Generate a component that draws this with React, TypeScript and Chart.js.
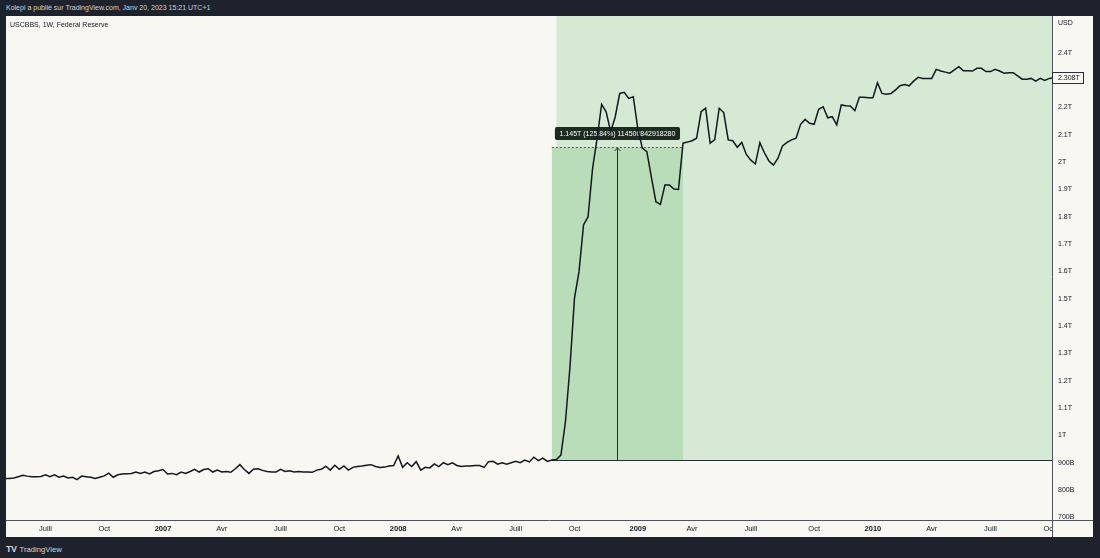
import React, { useEffect, useRef } from "react";
import { Chart, registerables } from "chart.js";

Chart.register(...registerables);

// Weekly bars (index 0 = first week of 2007), Federal Reserve total assets, billions USD
const FIRST_WEEK = -35;
const values2006 = [
  842, 842, 844, 849, 854, 851, 849, 849, 850, 856,
  849, 856, 847, 851, 844, 847, 838, 851, 849, 847,
  842, 847, 852, 862, 847, 856, 859, 860, 861, 866,
  861, 866, 859, 868, 871,
];
const values2007 = [
  875, 859, 861, 856, 866, 861, 868, 876, 866, 875,
  878, 866, 873, 866, 868, 865, 878, 893, 875, 861,
  876, 878, 872, 868, 866, 866, 876, 868, 871, 866,
  868, 866, 866, 865, 873, 876, 887, 873, 891, 876,
  888, 873, 883, 886, 888, 891, 893, 886, 883, 884,
  888, 890,
];
const values2008 = [
  925, 883, 900, 886, 904, 873, 883, 881, 896, 886,
  900, 893, 900, 890, 886, 888, 888, 890, 890, 883,
  904, 905, 895, 900, 895, 900, 905, 900, 910, 903,
  920, 908, 917, 905, 910, 912, 928, 1050, 1250, 1502,
  1599, 1770, 1800, 1977, 2087, 2211, 2184, 2111, 2165, 2251,
  2255, 2233, 2239,
];
const values2009 = [
  2123, 2051, 2038, 1945, 1855, 1845, 1916, 1916, 1901, 1900,
  2069, 2073, 2078, 2087, 2184, 2197, 2069, 2081, 2197, 2181,
  2081, 2078, 2054, 2072, 2028, 2007, 1993, 2071, 2034, 2004,
  1989, 2014, 2059, 2072, 2081, 2087, 2138, 2156, 2142, 2138,
  2193, 2202, 2162, 2166, 2136, 2209, 2206, 2205, 2188, 2237,
  2237, 2235,
];
const values2010 = [
  2235, 2290, 2251, 2248, 2251, 2264, 2279, 2284, 2279, 2296,
  2310, 2306, 2306, 2306, 2339, 2333, 2329, 2325, 2337, 2349,
  2334, 2334, 2333, 2343, 2343, 2331, 2331, 2339, 2333, 2325,
  2327, 2327, 2315, 2303, 2303, 2306, 2296, 2306, 2299, 2306,
  2308,
];

const xTickWeeks = [-26, -13, 0, 13, 26, 39, 52, 65, 78, 91, 105, 117, 130, 144, 157, 170, 183, 196];
const xTickLabels = ["Juill", "Oct", "2007", "Avr", "Juill", "Oct", "2008", "Avr", "Juill", "Oct", "2009", "Avr", "Juill", "Oct", "2010", "Avr", "Juill", "Oct"];
const yTickValues = [700, 800, 900, 1000, 1100, 1200, 1300, 1400, 1500, 1600, 1700, 1800, 1900, 2000, 2100, 2200, 2300, 2400];

const viewMinWeek = -34.72;
const viewMaxWeek = 196.6;
const viewMinValue = 690.5;
const viewMaxValue = 2534.3;

// Price range measurement drawing
const measureStartWeek = 86;
const measureEndWeek = 115;
const measureFrom = 910;
const measureTo = 2055;
const measureLabel = "1.145T (125.84%) 114500842918280";
const zoneStartWeek = 87;

const FONT = "'Liberation Sans', Arial, sans-serif";
const PANEL_BG = "rgb(248,247,242)";
const TEXT = "#131722";

const allValues = [...values2006, ...values2007, ...values2008, ...values2009, ...values2010];
const lastValue = allValues[allValues.length - 1];

function fmt(v: number): string {
  if (v >= 1000) {
    const t = Math.round(v) / 1000;
    return String(Math.round(t * 1000) / 1000) + "T";
  }
  return String(Math.round(v)) + "B";
}

const overlayPlugin = {
  id: "overlay",
  beforeDatasetsDraw(chart: any) {
    const { ctx, chartArea: a, scales } = chart;
    const x = scales.x;
    const y = scales.y;
    ctx.save();
    ctx.beginPath();
    ctx.rect(a.left, a.top, a.right - a.left, a.bottom - a.top);
    ctx.clip();
    const yBase = y.getPixelForValue(measureFrom);
    const yTop = y.getPixelForValue(measureTo);
    const xz = x.getPixelForValue(zoneStartWeek);
    ctx.fillStyle = "rgb(214,233,212)";
    ctx.fillRect(xz, a.top, a.right - xz, yBase - a.top);
    const x0 = x.getPixelForValue(measureStartWeek);
    const x1 = x.getPixelForValue(measureEndWeek);
    ctx.fillStyle = "rgb(186,221,185)";
    ctx.fillRect(x0, yTop, x1 - x0, yBase - yTop);

    ctx.lineWidth = 1;
    ctx.strokeStyle = "#2a2e39";
    ctx.beginPath();
    ctx.moveTo(x0, Math.round(yBase) + 0.5);
    ctx.lineTo(a.right, Math.round(yBase) + 0.5);
    ctx.stroke();

    ctx.setLineDash([2, 2]);
    ctx.strokeStyle = "rgba(60,60,60,0.8)";
    ctx.beginPath();
    ctx.moveTo(x0, Math.round(yTop) + 0.5);
    ctx.lineTo(x1, Math.round(yTop) + 0.5);
    ctx.stroke();
    ctx.setLineDash([]);

    const xm = Math.round((x0 + x1) / 2) + 0.5;
    ctx.strokeStyle = "#2a2e39";
    ctx.beginPath();
    ctx.moveTo(xm, yBase);
    ctx.lineTo(xm, yTop + 1);
    ctx.moveTo(xm - 3, yTop + 4);
    ctx.lineTo(xm, yTop + 1);
    ctx.lineTo(xm + 3, yTop + 4);
    ctx.stroke();

    // label
    const bx = x0 + 3;
    const bw = x1 - x0 - 6;
    const by = yTop - 20;
    const bh = 13;
    ctx.fillStyle = "rgb(28,42,32)";
    ctx.beginPath();
    if ((ctx as any).roundRect) (ctx as any).roundRect(bx, by, bw, bh, 2);
    else ctx.rect(bx, by, bw, bh);
    ctx.fill();
    ctx.fillStyle = "#ffffff";
    ctx.font = `7px ${FONT}`;
    ctx.textAlign = "center";
    ctx.textBaseline = "middle";
    ctx.fillText(measureLabel, (x0 + x1) / 2, by + bh / 2 + 0.5);
    ctx.restore();
  },
  afterDraw(chart: any) {
    const { ctx, chartArea: a, scales, width, height } = chart;
    const y = scales.y;
    ctx.save();
    // corner mask (clips overflowing labels)
    ctx.fillStyle = PANEL_BG;
    ctx.fillRect(a.right, a.bottom, width - a.right, height - a.bottom);
    // axis separators
    ctx.strokeStyle = "#50535e";
    ctx.lineWidth = 1;
    ctx.beginPath();
    ctx.moveTo(a.right + 0.5, 0);
    ctx.lineTo(a.right + 0.5, height);
    ctx.moveTo(0, a.bottom + 0.5);
    ctx.lineTo(width, a.bottom + 0.5);
    ctx.stroke();
    // USD
    ctx.fillStyle = TEXT;
    ctx.font = `7px ${FONT}`;
    ctx.textAlign = "left";
    ctx.textBaseline = "middle";
    ctx.fillText("USD", a.right + 6, 7);
    // last value box
    const ly = y.getPixelForValue(lastValue);
    ctx.fillStyle = PANEL_BG;
    ctx.fillRect(a.right + 0.5, Math.round(ly) - 5.5, 31, 11);
    ctx.strokeStyle = "#2a2e39";
    ctx.strokeRect(a.right + 0.5, Math.round(ly) - 5.5, 31, 11);
    ctx.fillStyle = TEXT;
    ctx.fillText(fmt(lastValue), a.right + 6, Math.round(ly) + 0.5);
    ctx.restore();
  },
};

function ChartPanel() {
  const ref = useRef<HTMLCanvasElement | null>(null);
  useEffect(() => {
    if (!ref.current) return;
    const data = allValues.map((v, i) => ({ x: FIRST_WEEK + i, y: v }));
    const chart = new Chart(ref.current, {
      type: "line",
      data: {
        datasets: [
          {
            data,
            borderColor: "#131722",
            borderWidth: 1.5,
            pointRadius: 0,
            tension: 0,
            fill: false,
          },
        ],
      },
      options: {
        animation: false,
        responsive: true,
        maintainAspectRatio: false,
        events: [],
        layout: { padding: 0 },
        plugins: {
          legend: { display: false },
          tooltip: { enabled: false },
          title: { display: false },
        },
        scales: {
          x: {
            type: "linear",
            min: viewMinWeek,
            max: viewMaxWeek,
            grid: { display: false, drawTicks: false },
            border: { display: false },
            afterBuildTicks: (s: any) => {
              s.ticks = xTickWeeks.map((v) => ({ value: v }));
            },
            afterFit: (s: any) => {
              s.height = 17;
              s.paddingLeft = 0;
              s.paddingRight = 0;
            },
            ticks: {
              autoSkip: false,
              maxRotation: 0,
              minRotation: 0,
              padding: 4,
              color: TEXT,
              font: (c: any) => ({
                family: FONT,
                size: 7.5,
                weight: /^\d{4}$/.test(xTickLabels[c.index] || "") ? "bold" : "normal",
              }),
              callback: (_v: any, i: number) => xTickLabels[i],
            },
          },
          y: {
            type: "linear",
            position: "right",
            min: viewMinValue,
            max: viewMaxValue,
            grid: { display: false, drawTicks: false },
            border: { display: false },
            afterBuildTicks: (s: any) => {
              s.ticks = yTickValues
                .filter((v) => Math.abs(v - lastValue) > 40)
                .map((v) => ({ value: v }));
            },
            afterFit: (s: any) => {
              s.width = 41;
              s.paddingTop = 0;
              s.paddingBottom = 0;
            },
            ticks: {
              autoSkip: false,
              padding: 6,
              color: TEXT,
              font: { family: FONT, size: 7 },
              callback: (v: any) => fmt(Number(v)),
            },
          },
        },
      },
      plugins: [overlayPlugin],
    });
    return () => chart.destroy();
  }, []);
  return <canvas ref={ref} />;
}

export default function App() {
  return (
    <div
      style={{
        position: "fixed",
        left: 0,
        top: 0,
        width: 1100,
        height: 558,
        background: "#1e222d",
        fontFamily: FONT,
        overflow: "hidden",
      }}
    >
      <div
        style={{
          position: "absolute",
          left: 6,
          top: 0,
          height: 16,
          lineHeight: "16px",
          fontSize: 7,
          color: "#d1d4dc",
          whiteSpace: "nowrap",
        }}
      >
        Kolepi a publié sur TradingView.com, Janv 20, 2023 15:21 UTC+1
      </div>
      <div
        style={{
          position: "absolute",
          left: 6,
          top: 16,
          width: 1087,
          height: 521,
          background: PANEL_BG,
        }}
      >
        <ChartPanel />
        <div
          style={{
            position: "absolute",
            left: 4,
            top: 4,
            fontSize: 7,
            lineHeight: "9px",
            color: TEXT,
            whiteSpace: "nowrap",
            pointerEvents: "none",
          }}
        >
          USCBBS, 1W, Federal Reserve
        </div>
      </div>
      <div
        style={{
          position: "absolute",
          left: 6,
          top: 543,
          height: 12,
          lineHeight: "12px",
          color: "#d1d4dc",
          whiteSpace: "nowrap",
          fontSize: 7.7,
        }}
      >
        <span style={{ fontWeight: 900, fontSize: 9, letterSpacing: -0.5, marginRight: 3 }}>TV</span>
        TradingView
      </div>
    </div>
  );
}
